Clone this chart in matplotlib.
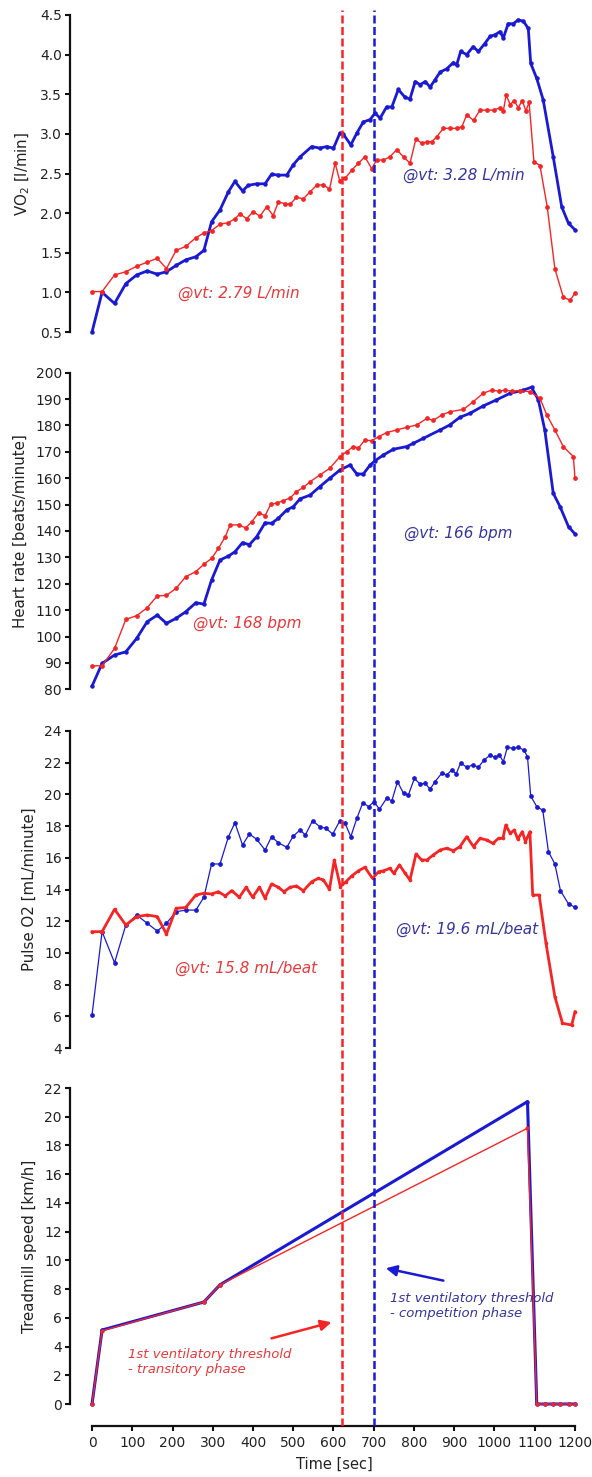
import matplotlib
matplotlib.use('Agg')
import matplotlib.pyplot as plt

# time points [sec] and values
t_vo2_blue = [0, 25, 56, 84, 111, 137, 162, 185, 209, 233,
              258, 278, 297, 318, 339, 355, 374, 388, 409, 430,
              446, 463, 484, 500, 517, 546, 566, 583, 600, 616,
              624, 643, 658, 674, 691, 703, 716, 732, 745, 761,
              778, 790, 803, 815, 828, 840, 852, 865, 881, 898,
              906, 916, 931, 947, 960, 976, 989, 1001, 1014, 1022,
              1034, 1047, 1059, 1072, 1084, 1090, 1105, 1121, 1146, 1167,
              1184, 1200]
vo2_blue = [0.5, 1.0, 0.86, 1.11, 1.22, 1.27, 1.23, 1.26, 1.34, 1.41,
            1.45, 1.53, 1.89, 2.04, 2.27, 2.40, 2.28, 2.35, 2.37, 2.37,
            2.49, 2.48, 2.48, 2.61, 2.71, 2.84, 2.82, 2.84, 2.82, 3.01,
            3.00, 2.86, 3.01, 3.15, 3.18, 3.26, 3.20, 3.34, 3.34, 3.56,
            3.46, 3.44, 3.66, 3.62, 3.66, 3.59, 3.68, 3.78, 3.82, 3.90,
            3.87, 4.04, 4.00, 4.10, 4.04, 4.14, 4.23, 4.25, 4.29, 4.21,
            4.39, 4.39, 4.44, 4.42, 4.33, 3.89, 3.70, 3.43, 2.71, 2.08,
            1.87, 1.79]

t_vo2_red = [0, 25, 56, 84, 111, 137, 162, 185, 209, 233,
             258, 278, 297, 318, 339, 355, 368, 384, 401, 417,
             434, 450, 463, 479, 492, 508, 525, 542, 558, 575,
             590, 604, 616, 629, 645, 662, 678, 695, 707, 724,
             740, 757, 774, 790, 805, 819, 832, 844, 856, 873,
             890, 906, 919, 931, 948, 964, 981, 998, 1014, 1022,
             1029, 1039, 1049, 1059, 1069, 1078, 1086, 1098, 1113, 1131,
             1150, 1171, 1188, 1200]
vo2_red = [1.01, 1.01, 1.22, 1.26, 1.33, 1.38, 1.43, 1.30, 1.53, 1.58,
           1.69, 1.75, 1.78, 1.86, 1.88, 1.93, 1.99, 1.93, 2.02, 1.96,
           2.08, 1.97, 2.14, 2.12, 2.11, 2.20, 2.18, 2.27, 2.35, 2.36,
           2.30, 2.63, 2.40, 2.44, 2.54, 2.63, 2.71, 2.56, 2.67, 2.67,
           2.71, 2.80, 2.71, 2.63, 2.94, 2.88, 2.90, 2.90, 2.96, 3.07,
           3.07, 3.07, 3.09, 3.24, 3.17, 3.30, 3.30, 3.30, 3.33, 3.29,
           3.49, 3.37, 3.42, 3.33, 3.42, 3.29, 3.40, 2.65, 2.60, 2.08,
           1.30, 0.94, 0.90, 0.99]

t_hr_blue = [0, 25, 56, 84, 111, 137, 162, 185, 209, 233,
             258, 278, 297, 318, 339, 355, 374, 391, 409, 430,
             446, 463, 484, 500, 517, 542, 566, 591, 616, 641,
             658, 674, 691, 703, 724, 749, 782, 798, 823, 865,
             889, 914, 939, 972, 1005, 1039, 1072, 1092, 1109, 1125,
             1146, 1163, 1184, 1200]
hr_blue = [81.2, 89.8, 93.0, 94.2, 99.3, 105.6, 108.1, 105.0, 106.9, 109.4,
           112.8, 112.3, 121.4, 129.0, 130.5, 132.1, 135.6, 134.8, 137.8, 143.1,
           142.9, 144.8, 148.0, 149.2, 152.2, 153.6, 156.8, 160.0, 163.1, 165.0,
           161.6, 161.6, 165.0, 166.6, 168.8, 171.0, 172.0, 173.2, 175.1, 178.3,
           180.2, 183.1, 184.6, 187.4, 189.7, 192.2, 193.4, 194.5, 189.7, 178.3,
           154.3, 149.2, 141.6, 138.9]

t_hr_red = [0, 25, 56, 84, 111, 137, 162, 185, 209, 233,
            258, 278, 297, 314, 331, 343, 364, 382, 397, 414,
            430, 444, 459, 475, 492, 508, 525, 542, 566, 591,
            616, 633, 649, 662, 678, 695, 712, 732, 757, 782,
            807, 832, 848, 869, 889, 923, 947, 972, 993, 1010,
            1026, 1043, 1064, 1088, 1113, 1130, 1150, 1171, 1196, 1200]
hr_red = [88.9, 88.9, 95.5, 106.5, 107.9, 110.9, 115.4, 115.6, 118.3, 122.7,
          124.6, 127.4, 129.6, 133.4, 137.8, 142.3, 142.3, 141.2, 143.5, 146.9,
          145.8, 150.1, 150.6, 151.5, 152.5, 154.9, 156.5, 158.7, 161.2, 163.8,
          168.2, 170.1, 172.0, 171.4, 174.5, 174.2, 175.7, 177.3, 178.3, 179.3,
          180.2, 182.7, 181.9, 184.0, 185.2, 186.1, 189.0, 192.2, 193.4, 193.0,
          193.4, 193.0, 193.2, 192.8, 190.3, 184.0, 178.3, 172.0, 168.2, 160.0]

t_po2_blue = [0, 25, 56, 84, 111, 137, 162, 185, 209, 233,
              258, 278, 297, 318, 339, 355, 374, 391, 409, 430,
              446, 463, 484, 500, 517, 530, 548, 566, 581, 598,
              616, 629, 643, 658, 673, 687, 701, 714, 732, 745,
              759, 774, 786, 801, 815, 828, 840, 852, 869, 881,
              894, 905, 916, 931, 946, 960, 974, 990, 1001, 1012,
              1022, 1032, 1045, 1059, 1073, 1082, 1090, 1105, 1120, 1134,
              1150, 1164, 1184, 1200]
po2_blue = [6.08, 11.34, 9.38, 11.76, 12.39, 11.87, 11.38, 11.87, 12.60, 12.70,
            12.70, 13.51, 15.61, 15.61, 17.33, 18.21, 16.81, 17.50, 17.17, 16.49,
            17.33, 16.95, 16.66, 17.37, 17.75, 17.44, 18.34, 17.96, 17.86, 17.50,
            18.34, 18.17, 17.33, 18.49, 19.48, 19.23, 19.54, 19.06, 19.75, 19.60,
            20.80, 20.07, 19.96, 21.01, 20.65, 20.70, 20.32, 20.80, 21.33, 21.22,
            21.54, 21.30, 22.00, 21.71, 21.86, 21.71, 22.17, 22.49, 22.33, 22.49,
            22.07, 22.97, 22.91, 22.97, 22.80, 22.38, 19.90, 19.23, 19.00, 16.39,
            15.61, 13.92, 13.09, 12.88]

t_po2_red = [0, 25, 56, 84, 111, 137, 162, 185, 209, 233,
             258, 278, 297, 314, 331, 347, 366, 383, 399, 416,
             430, 446, 463, 477, 492, 508, 525, 546, 562, 575,
             590, 602, 617, 631, 645, 662, 678, 697, 712, 724,
             740, 750, 764, 778, 790, 805, 819, 832, 848, 865,
             881, 898, 914, 931, 948, 964, 981, 996, 1010, 1021,
             1028, 1039, 1049, 1058, 1069, 1077, 1088, 1095, 1111, 1128,
             1150, 1169, 1192, 1200]
po2_red = [11.34, 11.34, 12.75, 11.76, 12.29, 12.39, 12.29, 11.19, 12.81, 12.87,
           13.65, 13.76, 13.72, 13.86, 13.59, 13.93, 13.51, 14.14, 13.51, 14.14,
           13.45, 14.35, 14.14, 13.86, 14.14, 14.22, 13.92, 14.49, 14.70, 14.60,
           14.01, 15.86, 14.18, 14.49, 14.85, 15.18, 15.40, 14.70, 15.12, 15.18,
           15.33, 15.02, 15.55, 15.02, 14.60, 16.24, 15.86, 15.86, 16.18, 16.49,
           16.60, 16.45, 16.70, 17.33, 16.70, 17.23, 17.12, 16.91, 17.23, 17.23,
           18.07, 17.54, 17.75, 17.17, 17.65, 17.02, 17.65, 13.65, 13.65, 10.60,
           7.24, 5.56, 5.45, 6.29]

t_speed = [0, 25, 278, 318, 1082, 1105, 1125, 1146, 1163, 1184, 1200]
speed_blue = [0, 5.15, 7.1, 8.3, 21.05, 0, 0, 0, 0, 0, 0]
speed_red = [0, 5.1, 7.1, 8.3, 19.2, 0, 0, 0, 0, 0, 0]

vt_red = 620
vt_blue = 700

BLUE = '#1a1ad2'
RED = '#f52525'
BLUE_TXT = '#35359e'
RED_TXT = '#e8383a'

plt.rcParams['font.family'] = ['DejaVu Sans']
plt.rcParams['text.color'] = '#222222'
plt.rcParams['axes.labelcolor'] = '#222222'

W, H = 592, 1477
fig = plt.figure(figsize=(W / 100, H / 100), dpi=100)
XL, XR = 70, 579
XLIM = (-54.7, 1210)


def add_px_axes(top, bottom, left=XL, right=XR):
    return fig.add_axes([left / W, 1 - bottom / H, (right - left) / W, (bottom - top) / H])


def style_axes(ax, ylim, yticks, ylabel, label_x, fmt=None):
    ax.set_xlim(*XLIM)
    ax.set_ylim(*ylim)
    for s in ['top', 'right', 'bottom']:
        ax.spines[s].set_visible(False)
    ax.spines['left'].set_linewidth(1.6)
    ax.spines['left'].set_color('#111111')
    ax.set_yticks(yticks)
    if fmt:
        ax.set_yticklabels([fmt.format(v) for v in yticks])
    ax.tick_params(axis='y', direction='out', length=3.8, width=1.5,
                   labelsize=10, pad=2, colors='#111111', labelcolor='#222222')
    ax.tick_params(axis='x', bottom=False, labelbottom=False)
    ax.set_ylabel(ylabel, fontsize=10.8)
    ax.yaxis.set_label_coords(label_x, 0.5)
    ax.patch.set_visible(False)


def series(ax, t, v, color, lw, ms):
    ax.plot(t, v, color=color, lw=lw, marker='o', ms=ms, mec=color, mfc=color,
            clip_on=False, solid_joinstyle='round')


# panel 1: VO2
ax1 = add_px_axes(15, 332)
series(ax1, t_vo2_blue, vo2_blue, BLUE, 2.0, 2.2)
series(ax1, t_vo2_red, vo2_red, RED, 1.0, 2.4)
style_axes(ax1, (0.5, 4.5), [0.5, 1.0, 1.5, 2.0, 2.5, 3.0, 3.5, 4.0, 4.5],
           'VO$_\\mathregular{2}$ [l/min]', -0.075, '{:.1f}')
ax1.text(214, 0.99, '@vt: 2.79 L/min', color=RED_TXT, style='italic', fontsize=11, va='center')
ax1.text(773, 2.48, '@vt: 3.28 L/min', color=BLUE_TXT, style='italic', fontsize=11, va='center')

# panel 2: heart rate
ax2 = add_px_axes(372.7, 689.3)
series(ax2, t_hr_blue, hr_blue, BLUE, 2.0, 2.2)
series(ax2, t_hr_red, hr_red, RED, 1.0, 2.4)
style_axes(ax2, (80, 200), list(range(80, 201, 10)), 'Heart rate [beats/minute]', -0.083)
ax2.text(250, 105.0, '@vt: 168 bpm', color=RED_TXT, style='italic', fontsize=11, va='center')
ax2.text(776, 139.1, '@vt: 166 bpm', color=BLUE_TXT, style='italic', fontsize=11, va='center')

# panel 3: pulse O2
ax3 = add_px_axes(731, 1048)
series(ax3, t_po2_blue, po2_blue, BLUE, 0.9, 2.4)
series(ax3, t_po2_red, po2_red, RED, 2.0, 1.6)
style_axes(ax3, (4, 24), list(range(4, 25, 2)), 'Pulse O2 [mL/minute]', -0.065)
ax3.text(206, 9.03, '@vt: 15.8 mL/beat', color=RED_TXT, style='italic', fontsize=11, va='center')
ax3.text(755, 11.49, '@vt: 19.6 mL/beat', color=BLUE_TXT, style='italic', fontsize=11, va='center')

# panel 4: treadmill speed
ax4 = add_px_axes(1088, 1404)
series(ax4, t_speed, speed_blue, BLUE, 2.2, 2.2)
series(ax4, t_speed, speed_red, RED, 1.0, 2.0)
style_axes(ax4, (0, 22), list(range(0, 23, 2)), 'Treadmill speed [km/h]', -0.065)
ax4.spines['bottom'].set_visible(True)
ax4.spines['bottom'].set_linewidth(1.6)
ax4.spines['bottom'].set_color('#111111')
ax4.spines['bottom'].set_position(('outward', 16))
ax4.spines['bottom'].set_bounds(0, 1200)
ax4.set_xticks(range(0, 1201, 100))
ax4.tick_params(axis='x', bottom=True, labelbottom=True, direction='out', length=3.8,
                width=1.5, labelsize=10, pad=3, colors='#111111', labelcolor='#222222')
ax4.set_xlabel('Time [sec]', fontsize=10.5)
ax4.xaxis.set_label_coords((334 - XL) / (XR - XL), -0.168)

ax4.text(89, 2.89, '1st ventilatory threshold\n- transitory phase', color=RED_TXT,
         style='italic', fontsize=9.5, va='center', ha='left')
ax4.text(740, 6.79, '1st ventilatory threshold\n- competition phase', color=BLUE_TXT,
         style='italic', fontsize=9.5, va='center', ha='left')
ax4.annotate('', xy=(595, 5.69), xytext=(446, 4.57),
             arrowprops=dict(arrowstyle='-|>', color=RED, lw=1.8, mutation_scale=16,
                             shrinkA=0, shrinkB=0))
ax4.annotate('', xy=(730, 9.45), xytext=(873, 8.59),
             arrowprops=dict(arrowstyle='-|>', color=BLUE, lw=1.8, mutation_scale=16,
                             shrinkA=0, shrinkB=0))

# dashed threshold lines running through all panels
ov = add_px_axes(10, 1426)
ov.set_xlim(*XLIM)
ov.set_ylim(0, 1)
ov.axis('off')
ov.axvline(vt_red, color=RED, lw=1.8, ls=(0, (3.2, 1.4)))
ov.axvline(vt_blue, color=BLUE, lw=1.8, ls=(0, (3.2, 1.4)))

fig.savefig('out.png', dpi=100)
